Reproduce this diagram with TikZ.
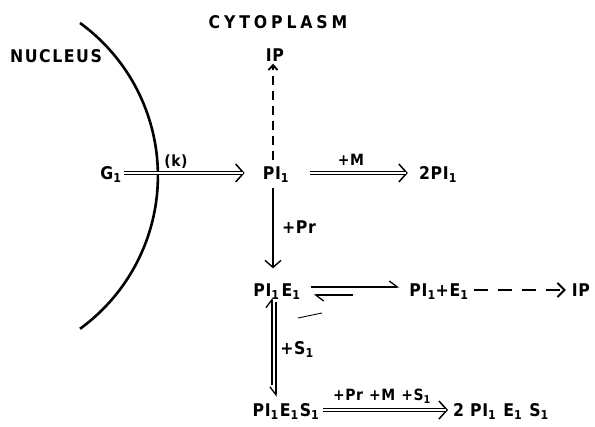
\documentclass[tikz,border=0pt]{standalone}
\usepackage{fontspec}
\setmainfont{DejaVu Sans}
\newfontfamily\labfont[LetterSpace=4]{DejaVu Sans Condensed Bold}
\newfontfamily\nucfont[LetterSpace=9]{DejaVu Sans Condensed Bold}
\newfontfamily\widefont[LetterSpace=22]{DejaVu Sans Condensed Bold}
\usetikzlibrary{arrows.meta}
\newcommand{\lsub}[1]{\textsubscript{#1}}
\begin{document}
\begin{tikzpicture}[x=1pt,y=-1pt,
  lab/.style={font=\labfont\fontsize{17.5}{20}\selectfont, inner sep=1pt, text height=13pt, text depth=0pt},
  rlab/.style={font=\labfont\fontsize{15.5}{18}\selectfont, inner sep=1pt},
  title/.style={font=\widefont\fontsize{17.5}{20}\selectfont, inner sep=1pt},
  tipline/.style={line width=1.3pt, -{Straight Barb[length=8pt,width=18pt,line width=1.5pt]}},
  shaft/.style={double distance=2pt, line width=1.2pt},
  plainarrow/.style={line width=1.4pt, -{Straight Barb[length=7pt,width=16pt,line width=1.4pt]}},
  harpoonL/.style={line width=1.2pt, -{Straight Barb[left,length=8pt,width=12pt,line width=1.3pt]}},
  harpoonR/.style={line width=1.2pt, -{Straight Barb[right,length=8pt,width=12pt,line width=1.3pt]}},
  dashup/.style={line width=2.2pt, dash pattern=on 9pt off 6pt, -{Straight Barb[length=5pt,width=9pt,line width=1.8pt]}},
  dashright/.style={line width=1.6pt, dash pattern=on 14pt off 10pt, -{Straight Barb[length=7pt,width=14pt,line width=1.8pt]}}
]
\useasboundingbox (0,0) rectangle (595,427);

% nuclear envelope
\draw[line width=2.6pt] (80,23) arc[start angle=-54,end angle=54,radius=189];

% texts
\node[title] (cyto) at (278,22) {CYTOPLASM};
\node[font=\nucfont\fontsize{17.5}{20}\selectfont, inner sep=1pt] (nuc) at (56,56) {NUCLEUS};
\node[lab] (ipTop) at (275,55) {IP};
\node[lab] (g1) at (111,173) {G\lsub{1}};
\node[lab] (pi) at (276,173) {PI\lsub{1}};
\node[lab] (twopi) at (438,173) {2PI\lsub{1}};
\node[lab] (pie) at (277,290) {PI\lsub{1}\hspace{2pt}E\lsub{1}};
\node[lab] (pipe) at (439,290) {PI\lsub{1}+E\lsub{1}};
\node[lab] (ipR) at (581,290) {IP};
\node[lab] (pies) at (286,410) {PI\lsub{1}\hspace{1pt}E\lsub{1}\hspace{1pt}S\lsub{1}};
\node[lab] (twopies) at (501,410) {2\hspace{6pt}PI\lsub{1}\hspace{7pt}E\lsub{1}\hspace{7pt}S\lsub{1}};

\node[rlab] (k) at (176,162) {(k)};
\node[rlab] (m) at (351,160) {+M};
\node[lab] (pr) at (299,227) {+Pr};
\node[lab] (s) at (297,348) {+S\lsub{1}};
\node[rlab] (prms) at (382,396) {+Pr\hspace{6pt}+M\hspace{6pt}+S\lsub{1}};

% G1 -> PI1 (k)
\draw[tipline, shorten <=1pt, shorten >=17pt] (g1) -- (pi);
\draw[shaft, shorten <=1pt, shorten >=19pt] (g1) -- (pi);
% PI1 -> 2PI1 (+M)
\draw[tipline, shorten <=20pt, shorten >=10pt] (pi) -- (twopi);
\draw[shaft, shorten <=20pt, shorten >=12pt] (pi) -- (twopi);
% PI1 -> IP dashed
\draw[dashup, shorten <=5pt, shorten >=1pt] ([xshift=-3pt]pi.north) -- ([xshift=-2pt]ipTop.south);
% PI1 -> PI1E1
\draw[plainarrow, shorten <=7pt, shorten >=14pt] ([xshift=-3pt]pi.south) -- ([xshift=-4pt]pie.north);
% PI1E1 <=> PI1+E1
\draw[harpoonL, shorten <=9pt, shorten >=9pt] ([yshift=3pt]pie.east) -- ([yshift=3pt]pipe.west);
\draw[harpoonL, shorten <=55pt, shorten >=12pt] ([yshift=-5pt]pipe.west) -- ([yshift=-5pt]pie.east);
% PI1+E1 -> IP dashed
\draw[dashright, shorten <=4pt, shorten >=5pt] (pipe) -- (ipR);
% PI1E1 <=> PI1E1S1
\draw[harpoonL, shorten <=17pt, shorten >=0pt] ([xshift=-14pt]pies.north) -- ([xshift=-5pt]pie.south);
\draw[harpoonR, shorten <=4.5pt, shorten >=5.5pt] ([xshift=-1pt]pie.south) -- ([xshift=-10pt]pies.north);
% PI1E1S1 -> 2PI1E1S1
\draw[tipline, shorten <=2pt, shorten >=4pt] (pies) -- (twopies);
\draw[shaft, shorten <=2pt, shorten >=6pt] (pies) -- (twopies);

% stray stroke
\draw[line width=0.9pt] (298,318) -- (322,313);
\end{tikzpicture}
\end{document}
